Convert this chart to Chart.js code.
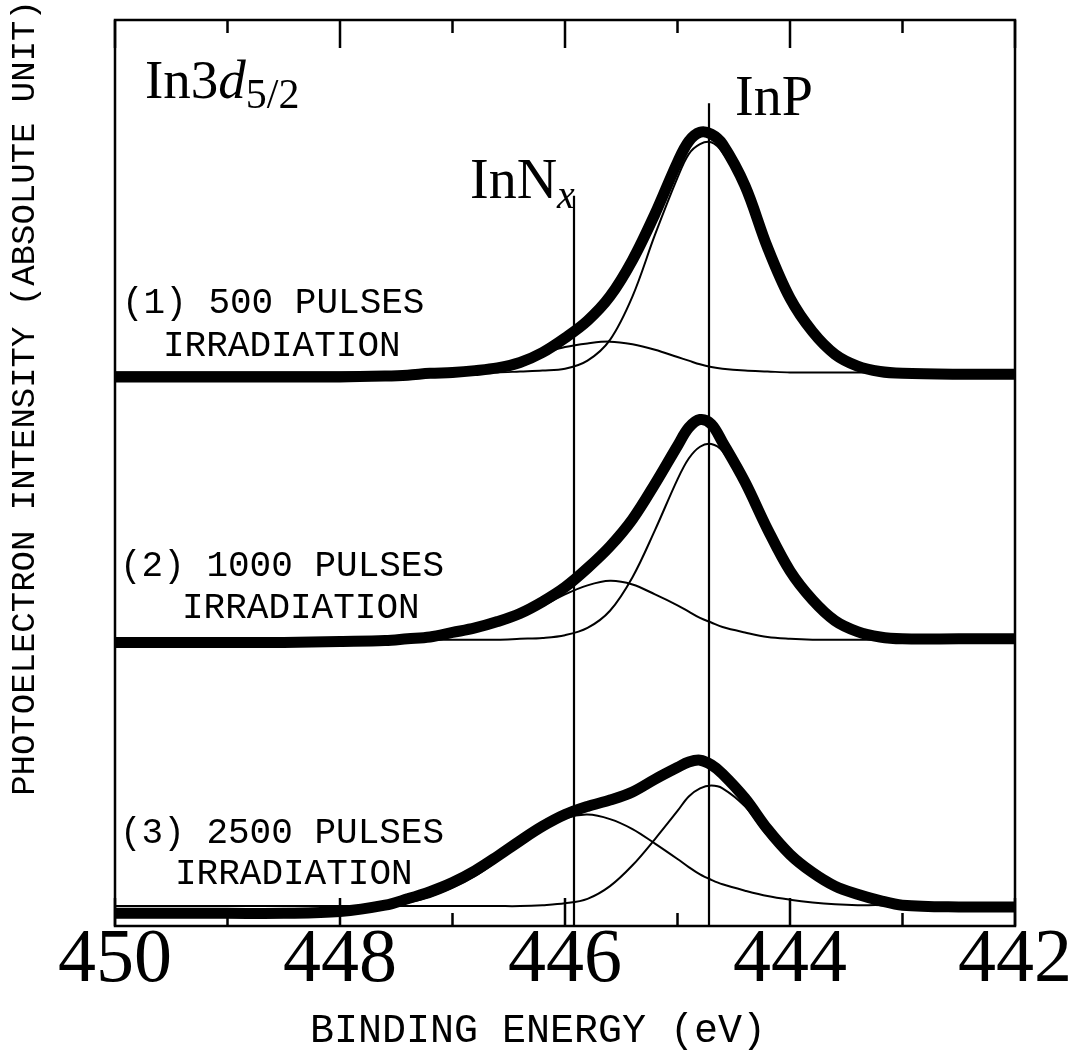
<!DOCTYPE html>
<html>
<head>
<meta charset="utf-8">
<script src="https://cdn.jsdelivr.net/npm/chart.js@4.4.0/dist/chart.umd.min.js"></script>
<style>
    html, body { margin: 0; padding: 0; background: #fff; }
</style>
</head>
<body>
<canvas id="xpsChart" width="1073" height="1057"></canvas>
<script>
// binding energy grid (eV) shared by all traces
const energy = [450, 449.5, 449, 448.5, 448, 447.6, 447.4, 447.2, 447.0, 446.8, 446.6, 446.4, 446.2, 446.0,
    445.8, 445.6, 445.4, 445.2, 445.0, 444.9, 444.8, 444.7, 444.6, 444.4, 444.2, 444.0,
    443.8, 443.6, 443.4, 443.2, 443.0, 442.5, 442.0];

// (1) 500 pulses
const data500 = [-5, -5, -5, -5, -5, -4, -3, -1, 0, 2, 5, 11, 22, 38, 57, 84, 124, 175, 232, 255, 265, 263, 252, 206, 138, 82, 45, 20, 7, 1, -1, -2, -2];
const inp500 = [0, 0, 0, 0, 0, 0, 0, 0, 0, 0, 0, 1, 2, 4, 13, 36, 84, 152, 215, 241, 252, 254, 243, 200, 134, 79, 42, 18, 7, 2, 0, 0, 0];
const innx500 = [0, 0, 0, 0, 0, 0, 0, 1, 2, 4, 8, 14, 21, 28, 32, 34, 31, 25, 17, 13, 9, 6, 4, 2, 1, 0, 0, 0, 0, 0, 0, 0, 0];

// (2) 1000 pulses
const data1000 = [-3, -3, -3, -3, -2, -1, 1, 3, 8, 13, 20, 29, 42, 58, 79, 103, 133, 172, 214, 234, 243, 238, 218, 174, 122, 76, 44, 21, 9, 3, 1, 1, 1];
const inp1000 = [0, 0, 0, 0, 0, 0, 0, 0, 0, 0, 0, 1, 2, 5, 13, 32, 69, 121, 177, 200, 213, 216, 208, 168, 118, 73, 41, 19, 8, 3, 0, 0, 0];
const innx1000 = [0, 0, 0, 0, 0, 0, 1, 3, 7, 11, 17, 25, 37, 50, 60, 65, 61, 50, 38, 31, 24, 19, 14, 8, 3, 1, 0, 0, 0, 0, 0, 0, 0];

// (3) 2500 pulses
const data2500 = [-8, -8, -8, -8, -6, 1, 8, 16, 26, 39, 55, 72, 88, 101, 110, 117, 126, 140, 153, 159, 161, 156, 146, 119, 85, 57, 37, 22, 13, 6, 1, -1, -1];
const inp2500 = [0, 0, 0, 0, 0, 0, 0, 0, 0, 0, 0, 0, 1, 3, 8, 22, 45, 74, 105, 121, 130, 133, 130, 110, 78, 53, 33, 20, 12, 6, 1, 0, 0];
const innx2500 = [0, 0, 0, 0, 0, 1, 4, 10, 20, 33, 50, 68, 84, 97, 101, 96, 85, 69, 52, 43, 35, 29, 24, 17, 11, 7, 4, 2, 1, 1, 0, 0, 0];

// vertical offsets of the stacked spectra (same units as intensity)
const offsets = [611, 316, 22];
const sampleLabels = [['(1) 500 PULSES', 'IRRADIATION'], ['(2) 1000 PULSES', 'IRRADIATION'], ['(3) 2500 PULSES', 'IRRADIATION']];

// peak positions of the two chemical states (eV)
const peakInNx = 445.92;
const peakInP = 444.72;
const peakLineTop = [806, 908];

function toPoints(values, offset) {
    return values.map((v, i) => ({ x: energy[i], y: v + offset }));
}

function dataSet(values, offset) {
    return {
        data: toPoints(values, offset),
        borderColor: '#000',
        borderWidth: 11,
        borderCapStyle: 'round',
        borderJoinStyle: 'round',
        pointRadius: 0,
        tension: 0.35
    };
}

function fitSet(values, offset) {
    return {
        data: toPoints(values, offset),
        borderColor: '#000',
        borderWidth: 2,
        pointRadius: 0,
        tension: 0.35
    };
}

function peakLine(e, top) {
    return {
        data: [{ x: e, y: 0 }, { x: e, y: top }],
        borderColor: '#000',
        borderWidth: 2.2,
        pointRadius: 0
    };
}

const allData = [data500, data1000, data2500];
const allInP = [inp500, inp1000, inp2500];
const allInNx = [innx500, innx1000, innx2500];

const datasets = [];
for (let k = 0; k < 3; k++) {
    datasets.push(fitSet(allInP[k], offsets[k]));
    datasets.push(fitSet(allInNx[k], offsets[k]));
    datasets.push(dataSet(allData[k], offsets[k]));
}
datasets.push(peakLine(peakInNx, peakLineTop[0]));
datasets.push(peakLine(peakInP, peakLineTop[1]));

function runs(ctx, x, y, parts) {
    parts.forEach(p => {
        ctx.font = p.font;
        ctx.fillText(p.t, x, y + (p.dy || 0));
        x += ctx.measureText(p.t).width + (p.gap || 0);
    });
}

const decorations = {
    id: 'decorations',
    afterDatasetsDraw(chart) {
        const ctx = chart.ctx;
        const area = chart.chartArea;
        const xs = chart.scales.x;
        ctx.save();
        ctx.strokeStyle = '#000';
        ctx.fillStyle = '#000';
        ctx.lineWidth = 2.5;
        ctx.strokeRect(area.left, area.top, area.right - area.left, area.bottom - area.top);

        // inward ticks top and bottom
        xs.ticks.forEach(t => {
            const px = xs.getPixelForValue(t.value);
            const len = t.value % 2 === 0 ? 28 : 13;
            ctx.beginPath();
            ctx.moveTo(px, area.top);
            ctx.lineTo(px, area.top + len);
            ctx.moveTo(px, area.bottom);
            ctx.lineTo(px, area.bottom - len);
            ctx.stroke();
        });

        ctx.textBaseline = 'alphabetic';
        ctx.textAlign = 'left';
        const serif = '"Liberation Serif", "Times New Roman", serif';
        runs(ctx, 145, 98, [
            { t: 'In3', font: '55px ' + serif },
            { t: 'd', font: 'italic 55px ' + serif },
            { t: '5/2', font: '42px ' + serif, dy: 10 }
        ]);
        runs(ctx, 735, 115, [{ t: 'InP', font: '56px ' + serif }]);
        runs(ctx, 470, 198, [
            { t: 'InN', font: '56px ' + serif },
            { t: 'x', font: 'italic 40px ' + serif, dy: 10 }
        ]);

        // sample labels
        ctx.font = '36px "Liberation Mono", "Courier New", monospace';
        const labelPos = [[122, 163, 313, 356], [120, 182, 576, 618], [120, 175, 843, 884]];
        sampleLabels.forEach((lines, k) => {
            const p = labelPos[k];
            ctx.fillText(lines[0], p[0], p[2]);
            ctx.fillText(lines[1], p[1], p[3]);
        });

        // axis titles
        ctx.textAlign = 'center';
        ctx.font = '40px "Liberation Mono", "Courier New", monospace';
        ctx.fillText('BINDING ENERGY (eV)', 538, 1042);
        ctx.translate(34, 398);
        ctx.rotate(-Math.PI / 2);
        ctx.font = '34px "Liberation Mono", "Courier New", monospace';
        ctx.fillText('PHOTOELECTRON INTENSITY (ABSOLUTE UNIT)', 0, 0);
        ctx.restore();
    }
};

new Chart(document.getElementById('xpsChart').getContext('2d'), {
    type: 'line',
    data: { datasets: datasets },
    options: {
        responsive: false,
        animation: false,
        devicePixelRatio: 1,
        layout: { padding: { left: 115, right: 58, top: 20, bottom: 61 } },
        plugins: { legend: { display: false }, tooltip: { enabled: false } },
        scales: {
            x: {
                type: 'linear',
                reverse: true,
                min: 442,
                max: 450,
                grid: { display: false, drawTicks: false },
                border: { display: false },
                ticks: {
                    stepSize: 1,
                    autoSkip: false,
                    maxRotation: 0,
                    padding: -3,
                    color: '#000',
                    font: { family: '"Liberation Serif", "Times New Roman", serif', size: 76, lineHeight: 1 },
                    callback: v => (v % 2 === 0 ? String(v) : '')
                }
            },
            y: {
                display: false,
                min: 0,
                max: 1000
            }
        }
    },
    plugins: [decorations]
});
</script>
</body>
</html>
